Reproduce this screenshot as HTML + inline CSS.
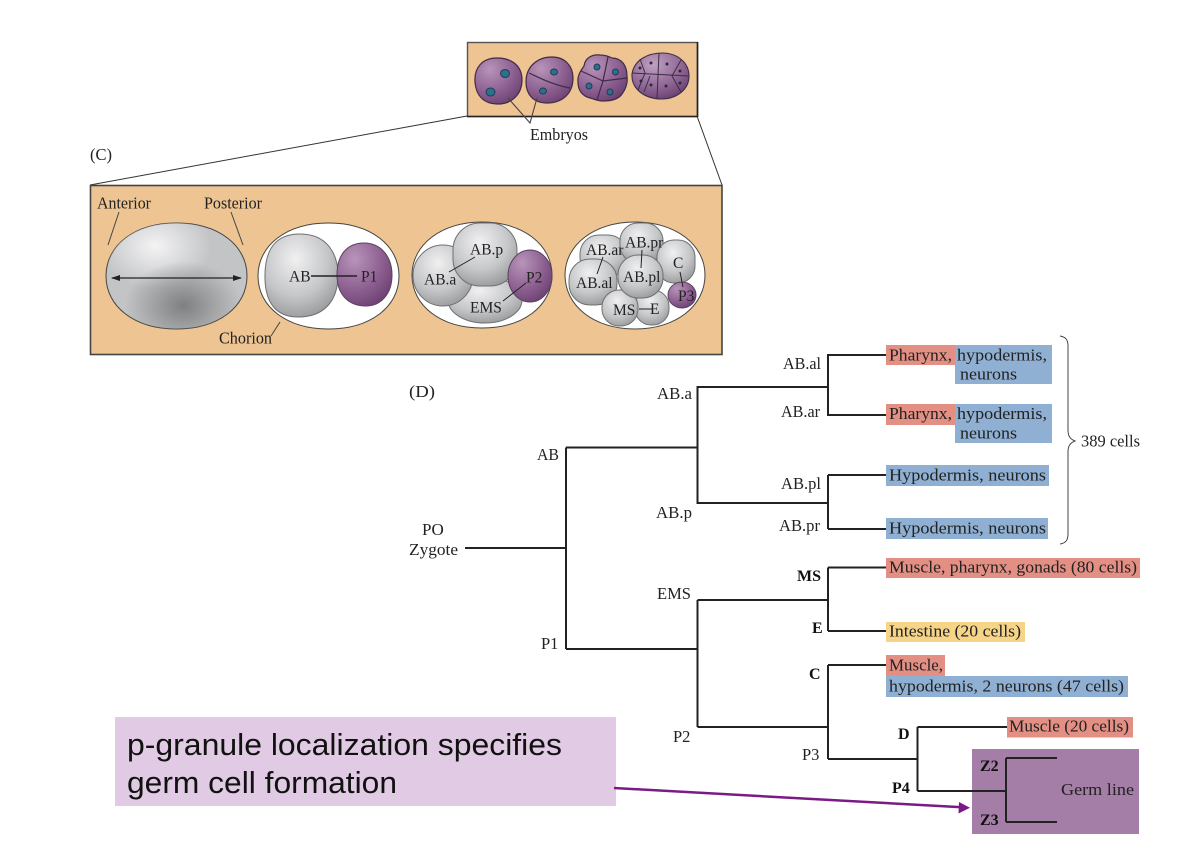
<!DOCTYPE html>
<html><head><meta charset="utf-8"><style>
html,body{margin:0;padding:0;background:#fff;width:1180px;height:849px;overflow:hidden}
svg{display:block;position:absolute;left:0;top:0}
.t{font-family:"Liberation Serif",serif;font-size:16.5px;fill:#222}
.s{font-size:17px}
.b{font-weight:bold;fill:#111;font-size:16px}
.c{font-size:15.5px}
.l{stroke:#222;stroke-width:2;fill:none}
.cell{stroke:#6f7072;stroke-width:1}
.pc{stroke:#5a4260;stroke-width:1}
.soft{filter:blur(.35px)}
</style></head><body>
<svg width="1180" height="849" viewBox="0 0 1180 849" xmlns="http://www.w3.org/2000/svg">
<defs>
<radialGradient id="g" cx="42%" cy="30%" r="80%"><stop offset="0" stop-color="#f0f0f1"/><stop offset=".55" stop-color="#c6c7c9"/><stop offset="1" stop-color="#8f9092"/></radialGradient>
<radialGradient id="gh" cx="35%" cy="22%" r="40%"><stop offset="0" stop-color="#f6f6f7" stop-opacity=".95"/><stop offset="1" stop-color="#f6f6f7" stop-opacity="0"/></radialGradient>
<radialGradient id="gd" cx="55%" cy="78%" r="42%"><stop offset="0" stop-color="#77787a" stop-opacity=".9"/><stop offset="1" stop-color="#77787a" stop-opacity="0"/></radialGradient>
<radialGradient id="p" cx="32%" cy="25%" r="85%"><stop offset="0" stop-color="#b894b9"/><stop offset=".6" stop-color="#8c5f90"/><stop offset="1" stop-color="#6a3f70"/></radialGradient>
<radialGradient id="p3" cx="38%" cy="25%" r="85%"><stop offset="0" stop-color="#c0a0c2"/><stop offset=".55" stop-color="#926b97"/><stop offset="1" stop-color="#63386a"/></radialGradient>
</defs>

<g class="soft">
<!-- top panel -->
<line x1="467" y1="116" x2="90" y2="185" stroke="#333" stroke-width="1"/>
<line x1="697" y1="116" x2="722" y2="185" stroke="#333" stroke-width="1"/>
<rect x="467.500" y="42.500" width="230" height="74" fill="#edc492" stroke="#555" stroke-width="1.400"/>
<line x1="697.500" y1="42" x2="697.500" y2="117" stroke="#222" stroke-width="1.600"/>
<line x1="467" y1="116.500" x2="698" y2="116.500" stroke="#222" stroke-width="1.600"/>
<path d="M475 82C474 68 482 58 497 58C512 58 522 66 522 80C522 94 512 104 498 104C484 104 476 96 475 82Z" fill="url(#p)" stroke="#3f2c46" stroke-width="1.200"/>
<ellipse cx="505" cy="73.500" rx="4.500" ry="4" fill="#2c6f8f" stroke="#1f3d52"/>
<ellipse cx="490.500" cy="92" rx="4.500" ry="4" fill="#2c6f8f" stroke="#1f3d52"/>
<path d="M526 82C526 66 538 57 552 57C565 57 573 66 573 78C573 92 564 103 547 103C533 103 526 94 526 82Z" fill="url(#p)" stroke="#3f2c46" stroke-width="1.200"/>
<path d="M529 73C540 78 553 85 570 88" stroke="#3f2c46" stroke-width="1.200" fill="none"/>
<ellipse cx="554" cy="72" rx="3.500" ry="3" fill="#2c6f8f" stroke="#1f3d52"/>
<ellipse cx="543" cy="91" rx="3.500" ry="3" fill="#2c6f8f" stroke="#1f3d52"/>
<path d="M578 82C577 76 581 70 584 66C585 58 592 54 600 55C606 55 610 57 612 58C622 58 627 66 627 76C628 84 625 90 622 94C618 100 610 101 603 101C596 101 592 98 590 98C582 96 578 90 578 82Z" fill="url(#p)" stroke="#3f2c46" stroke-width="1.200"/>
<path d="M581 71L603 81L627 78M603 81L597 100M603 81L608 57" stroke="#3f2c46" stroke-width="1.200" fill="none"/>
<circle cx="597" cy="67" r="3" fill="#2c6f8f" stroke="#1f3d52"/>
<circle cx="615.500" cy="72" r="3" fill="#2c6f8f" stroke="#1f3d52"/>
<circle cx="589" cy="86" r="3" fill="#2c6f8f" stroke="#1f3d52"/>
<circle cx="610" cy="92" r="3" fill="#2c6f8f" stroke="#1f3d52"/>
<path d="M632 74C634 60 648 53 662 53C678 53 689 63 689 76C689 90 676 99 662 99C646 99 631 90 632 74Z" fill="url(#p3)" stroke="#3f2c46" stroke-width="1.100"/>
<path d="M632 73L689 76M659 53L657 99M640 59L645 73L638 90M681 60L672 76L681 92M650 76L644 92" stroke="#3f2c46" stroke-width="1" fill="none"/>
<g fill="#2a2a3a"><circle cx="640" cy="68" r="1.500"/><circle cx="651" cy="63" r="1.500"/><circle cx="667" cy="64" r="1.500"/><circle cx="680" cy="71" r="1.500"/><circle cx="641" cy="81" r="1.500"/><circle cx="651" cy="85" r="1.500"/><circle cx="666" cy="86" r="1.500"/><circle cx="680" cy="83" r="1.500"/></g>
<path d="M508 98L530 123L537 98" stroke="#444" stroke-width="1.100" fill="none"/>
<text x="530" y="140" class="t" textLength="58" lengthAdjust="spacingAndGlyphs">Embryos</text>

<!-- C panel -->
<text x="90" y="160" class="t">(C)</text>
<rect x="90.500" y="185.500" width="631.500" height="169" fill="#edc492" stroke="#444" stroke-width="1.600"/>
<path d="M106 276C106 245 135 223 176.500 223C218 223 247 245 247 276C247 307 218 329 176.500 329C135 329 106 307 106 276Z" fill="#c3c4c6" stroke="#444" stroke-width="1"/>
<path d="M106 276C106 245 135 223 176.500 223C218 223 247 245 247 276C247 307 218 329 176.500 329C135 329 106 307 106 276Z" fill="url(#gh)"/>
<path d="M106 276C106 245 135 223 176.500 223C218 223 247 245 247 276C247 307 218 329 176.500 329C135 329 106 307 106 276Z" fill="url(#gd)"/>
<line x1="112" y1="278" x2="241" y2="278" stroke="#222" stroke-width="1.200"/>
<path d="M111 278L120 275V281Z M242 278L233 275V281Z" fill="#222"/>
<line x1="119" y1="212" x2="108" y2="245" stroke="#444" stroke-width="1"/>
<line x1="231" y1="212" x2="243" y2="245" stroke="#444" stroke-width="1"/>
<text x="97" y="208.500" class="t" textLength="54" lengthAdjust="spacingAndGlyphs">Anterior</text>
<text x="204" y="208.500" class="t" textLength="58" lengthAdjust="spacingAndGlyphs">Posterior</text>

<path d="M258 276C258 245 287 223 328.500 223C370 223 399 245 399 276C399 307 370 329 328.500 329C287 329 258 307 258 276Z" fill="#fff" stroke="#444" stroke-width="1"/>
<path d="M265 280C264 250 275 234 300 234C328 234 338 255 338 275C338 300 325 317 298 317C278 317 266 305 265 280Z" fill="url(#g)" class="cell"/>
<path d="M337 275C337 255 347 243 364 243C382 243 392 258 392 275C392 295 380 306 366 306C349 306 337 295 337 275Z" fill="url(#p)" class="pc"/>
<line x1="311" y1="276" x2="357" y2="276" stroke="#222" stroke-width="1.400"/>
<text x="289" y="281.500" class="t c">AB</text>
<text x="361" y="281.500" class="t c">P1</text>
<line x1="280" y1="322" x2="271" y2="336" stroke="#444" stroke-width="1"/>
<text x="219" y="343.500" class="t" textLength="53" lengthAdjust="spacingAndGlyphs">Chorion</text>

<path d="M412 275C412 245 441 222 482 222C523 222 552 245 552 275C552 306 523 328 482 328C441 328 412 306 412 275Z" fill="#fff" stroke="#444" stroke-width="1"/>
<ellipse cx="485" cy="300" rx="37" ry="23" fill="url(#g)" class="cell"/>
<ellipse cx="443" cy="275.500" rx="30" ry="30.500" fill="url(#g)" class="cell"/>
<rect x="453" y="223" width="64" height="63" rx="27" fill="url(#g)" class="cell"/>
<ellipse cx="530" cy="276" rx="22" ry="26" fill="url(#p)" class="pc"/>
<path d="M449 272L475 257M526 283L503 301" stroke="#222" stroke-width="1"/>
<text x="470" y="254.500" class="t c">AB.p</text>
<text x="424" y="284.500" class="t c">AB.a</text>
<text x="526" y="282.500" class="t c">P2</text>
<text x="470" y="312.500" class="t c">EMS</text>

<path d="M565 275C565 245 594 222 635 222C676 222 705 245 705 275C705 306 676 329 635 329C594 329 565 306 565 275Z" fill="#fff" stroke="#444" stroke-width="1"/>
<rect x="580" y="235" width="47" height="42" rx="19" fill="url(#g)" class="cell"/>
<rect x="620" y="223" width="43" height="40" rx="18" fill="url(#g)" class="cell"/>
<rect x="657" y="240" width="38" height="43" rx="17" fill="url(#g)" class="cell"/>
<rect x="569" y="259" width="48" height="46" rx="21" fill="url(#g)" class="cell"/>
<rect x="635" y="290" width="34" height="35" rx="16" fill="url(#g)" class="cell"/>
<rect x="602" y="290" width="36" height="36" rx="17" fill="url(#g)" class="cell"/>
<rect x="618" y="255" width="45" height="43" rx="20" fill="url(#g)" class="cell"/>
<ellipse cx="682" cy="295" rx="14" ry="13" fill="url(#p)" class="pc"/>
<path d="M603 257L597 274M642 250L641 268M680 272L683 287M639 309L653 309" stroke="#222" stroke-width="1"/>
<text x="586" y="255" class="t c">AB.ar</text>
<text x="625" y="247.500" class="t c">AB.pr</text>
<text x="576" y="288" class="t c">AB.al</text>
<text x="623" y="282" class="t c">AB.pl</text>
<text x="673" y="268" class="t c">C</text>
<text x="678" y="301" class="t c">P3</text>
<text x="613" y="315" class="t c">MS</text>
<text x="650" y="314" class="t c">E</text>

<!-- D -->
<text x="409" y="397" class="t" textLength="26" lengthAdjust="spacingAndGlyphs">(D)</text>
<g fill="#e38f84">
<rect x="886" y="345" width="69" height="20"/><rect x="886" y="404" width="69" height="21"/>
<rect x="886" y="558" width="254" height="20"/><rect x="886" y="655" width="59" height="21"/>
<rect x="1007" y="717" width="126" height="20.500"/></g>
<g fill="#8fb0d3">
<rect x="955" y="345" width="97" height="39"/><rect x="955" y="404" width="97" height="39"/>
<rect x="886" y="465" width="163" height="21"/><rect x="886" y="518" width="162" height="21"/>
<rect x="886" y="676" width="242" height="21"/></g>
<rect x="886" y="622" width="139" height="20" fill="#f6d488"/>
<rect x="972" y="749" width="167" height="85" fill="#a47ea6"/>

<path class="l" d="M465 548H566M886 355H828V415H886M828 387H697.500V503H828M828 475V529M886 475H828M886 529H828M566 447.500V649M566 447.500H697.500M566 649H697.500M697.500 600V727M697.500 600H828M828 567.500V631M886 567.500H828M886 631H828M697.500 727H828M828 665V759M886 665H828M828 759H917.500M917.500 727V791M1007 727H917.500M917.500 791H1006M1006 758V822M1057 758H1006M1057 822H1006"/>

<path d="M1060 336C1066 337 1068 340 1068 346V430C1068 436 1070 439 1075 441C1070 443 1068 446 1068 452V534C1068 540 1066 543 1060 544" fill="none" stroke="#444" stroke-width="1"/>

<text x="783" y="369" class="t" textLength="38" lengthAdjust="spacingAndGlyphs">AB.al</text>
<text x="781" y="417" class="t" textLength="39" lengthAdjust="spacingAndGlyphs">AB.ar</text>
<text x="657" y="399" class="t" textLength="35" lengthAdjust="spacingAndGlyphs">AB.a</text>
<text x="781" y="489" class="t" textLength="40" lengthAdjust="spacingAndGlyphs">AB.pl</text>
<text x="779" y="531" class="t" textLength="41" lengthAdjust="spacingAndGlyphs">AB.pr</text>
<text x="656" y="518" class="t" textLength="36" lengthAdjust="spacingAndGlyphs">AB.p</text>
<text x="537" y="460" class="t" textLength="22" lengthAdjust="spacingAndGlyphs">AB</text>
<text x="422" y="535" class="t s">PO</text>
<text x="409" y="555" class="t s" textLength="49" lengthAdjust="spacingAndGlyphs">Zygote</text>
<text x="657" y="599" class="t" textLength="34" lengthAdjust="spacingAndGlyphs">EMS</text>
<text x="541" y="649" class="t">P1</text>
<text x="673" y="742" class="t">P2</text>
<text x="802" y="760" class="t">P3</text>
<text x="797" y="581" class="t b">MS</text>
<text x="812" y="633" class="t b">E</text>
<text x="809" y="679" class="t b">C</text>
<text x="898" y="739" class="t b">D</text>
<text x="892" y="793" class="t b">P4</text>
<text x="980" y="771" class="t b">Z2</text>
<text x="980" y="825" class="t b">Z3</text>
<text x="1061" y="795" class="t s" textLength="73" lengthAdjust="spacingAndGlyphs">Germ line</text>

<text x="889" y="360.500" class="t s" textLength="63" lengthAdjust="spacingAndGlyphs">Pharynx,</text>
<text x="957" y="360.500" class="t s" textLength="90" lengthAdjust="spacingAndGlyphs">hypodermis,</text>
<text x="960" y="379.500" class="t s" textLength="57" lengthAdjust="spacingAndGlyphs">neurons</text>
<text x="889" y="419" class="t s" textLength="63" lengthAdjust="spacingAndGlyphs">Pharynx,</text>
<text x="957" y="419" class="t s" textLength="90" lengthAdjust="spacingAndGlyphs">hypodermis,</text>
<text x="960" y="438.500" class="t s" textLength="57" lengthAdjust="spacingAndGlyphs">neurons</text>
<text x="889" y="480.500" class="t s" textLength="157" lengthAdjust="spacingAndGlyphs">Hypodermis, neurons</text>
<text x="889" y="533.500" class="t s" textLength="157" lengthAdjust="spacingAndGlyphs">Hypodermis, neurons</text>
<text x="1081" y="446.500" class="t" textLength="59" lengthAdjust="spacingAndGlyphs">389 cells</text>
<text x="889" y="572.500" class="t s" textLength="248" lengthAdjust="spacingAndGlyphs">Muscle, pharynx, gonads (80 cells)</text>
<text x="889" y="636.500" class="t s" textLength="132" lengthAdjust="spacingAndGlyphs">Intestine (20 cells)</text>
<text x="889" y="670.500" class="t s" textLength="54" lengthAdjust="spacingAndGlyphs">Muscle,</text>
<text x="889" y="691.500" class="t s" textLength="235" lengthAdjust="spacingAndGlyphs">hypodermis, 2 neurons (47 cells)</text>
<text x="1009" y="731.500" class="t s" textLength="120" lengthAdjust="spacingAndGlyphs">Muscle (20 cells)</text>
</g>

<!-- callout -->
<rect x="115" y="717" width="501" height="89" fill="#e1cae3"/>
<text x="127" y="755" style="font-family:'Liberation Sans',sans-serif;font-size:31px;fill:#111" textLength="435" lengthAdjust="spacingAndGlyphs">p-granule localization specifies</text>
<text x="127" y="793" style="font-family:'Liberation Sans',sans-serif;font-size:31px;fill:#111" textLength="270" lengthAdjust="spacingAndGlyphs">germ cell formation</text>
<line x1="614" y1="788" x2="962" y2="807.300" stroke="#7b1a85" stroke-width="2.500"/>
<path d="M970 807.800L959 802L958.500 813.500Z" fill="#7b1a85"/>
</svg>
</body></html>
